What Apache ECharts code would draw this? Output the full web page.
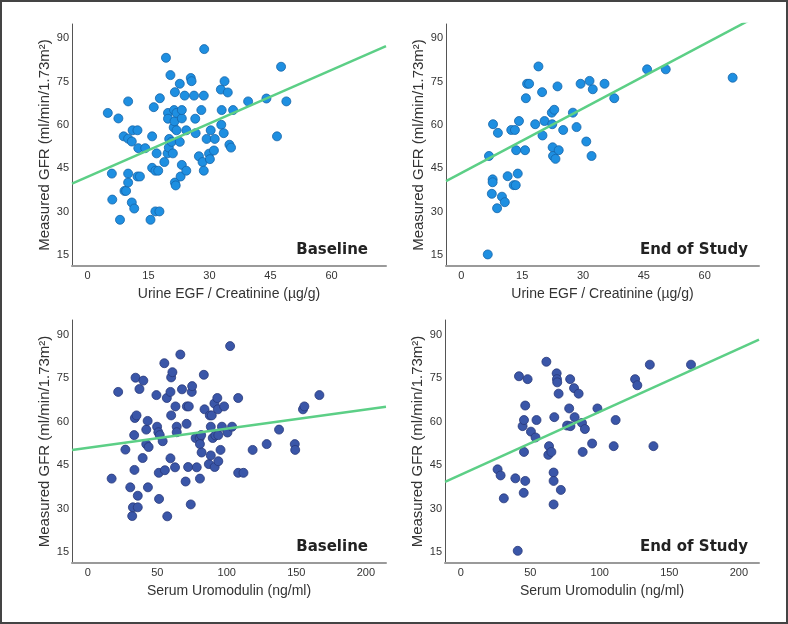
<!DOCTYPE html>
<html>
<head>
<meta charset="utf-8">
<script src="https://cdn.jsdelivr.net/npm/echarts@6/dist/echarts.min.js"></script>
<style>
  html, body { margin: 0; padding: 0; background: #fff; }
  #chart { width: 788px; height: 624px; box-sizing: border-box; border: 2px solid #444; }
</style>
</head>
<body>
<div id="chart"></div>
<script>
// urine EGF / creatinine vs measured GFR, baseline
const egfBaseX = [5.0, 6.0, 6.1, 7.6, 8.0, 8.9, 9.1, 9.5, 10.0, 10.0, 10.0, 10.0, 10.9, 10.9, 11.5, 11.1, 12.3, 12.5, 12.3, 12.9,
  14.2, 15.5, 15.9, 15.9, 16.3, 16.7, 17.7, 17.0, 16.7, 17.4, 17.8, 18.9, 19.3, 19.7, 19.8, 19.8, 20.0, 20.1, 20.4, 20.7,
  21.0, 21.2, 21.3, 21.4, 21.5, 21.7, 21.5, 21.9, 21.9, 22.7, 22.7, 22.9, 23.2, 23.2, 23.2, 23.9, 24.3, 24.3, 25.4, 25.6,
  26.2, 26.5, 26.6, 27.4, 28.0, 28.3, 28.6, 28.7, 28.6, 29.3, 29.9, 30.1, 30.3, 31.1, 31.3, 32.8, 32.9, 33.0, 33.5, 33.7,
  34.5, 34.9, 35.3, 35.8, 39.5, 44.0, 46.6, 47.6, 48.9];
const egfBaseY = [64.2, 43.2, 34.2, 62.3, 27.2, 56.1, 37.2, 37.2, 68.2, 43.2, 40.1, 55.3, 54.3, 33.2, 31.1, 58.2, 58.2, 52.0, 42.2, 42.2,
  52.0, 27.2, 56.1, 45.2, 66.2, 30.1, 30.1, 50.2, 44.2, 44.2, 69.3, 47.2, 83.3, 50.2, 64.2, 62.2, 52.2, 55.2, 77.3, 54.2,
  50.2, 59.2, 65.2, 61.3, 40.1, 39.1, 71.4, 64.2, 58.2, 54.2, 74.3, 42.2, 46.2, 62.3, 65.2, 70.2, 44.2, 58.2, 76.3, 75.2,
  70.2, 62.2, 57.2, 49.2, 65.2, 47.2, 70.2, 86.3, 44.2, 55.2, 50.1, 48.2, 58.2, 51.2, 55.2, 72.3, 60.1, 65.2, 57.2, 75.2,
  71.3, 53.2, 52.2, 65.2, 68.2, 69.2, 56.1, 80.2, 68.2];

// urine EGF / creatinine vs measured GFR, end of study
const egfEndX = [6.5, 6.8, 7.5, 7.7, 7.7, 7.8, 8.8, 9.0, 10.0, 10.7, 11.4, 12.3, 13.2, 12.9, 13.4, 13.5, 13.9, 14.2, 15.7, 15.9,
  16.2, 16.7, 18.2, 19.0, 19.9, 20.0, 20.5, 22.3, 22.4, 22.5, 22.6, 22.9, 23.2, 23.7, 24.0, 25.1, 27.5, 28.4, 29.4, 30.8,
  31.6, 32.1, 32.4, 35.3, 37.7, 45.8, 50.4, 66.9];
const egfEndY = [15.2, 49.3, 36.2, 41.2, 40.2, 60.3, 31.2, 57.3, 35.2, 33.3, 42.3, 58.3, 58.3, 39.2, 39.2, 51.3, 43.2, 61.4, 51.3, 69.3,
  74.3, 74.3, 60.3, 80.3, 71.4, 56.4, 61.4, 64.3, 60.3, 52.3, 49.3, 65.3, 48.3, 73.4, 51.3, 58.3, 64.3, 59.3, 74.3, 54.3,
  75.3, 49.3, 72.4, 74.3, 69.3, 79.3, 79.3, 76.4];

// serum uromodulin vs measured GFR, baseline
const umodBaseX = [17.2, 21.9, 27.1, 30.6, 32.0, 32.5, 36.0, 33.4, 33.6, 33.9, 35.1, 34.4, 36.0, 37.2, 39.5, 40.0, 42.1, 42.1, 43.1, 43.8,
  43.3, 49.4, 49.9, 50.8, 51.1, 51.3, 51.8, 53.9, 55.5, 55.1, 57.2, 56.9, 59.5, 59.5, 60.0, 60.0, 60.9, 62.8, 63.1, 64.0,
  64.0, 66.6, 67.8, 70.4, 71.1, 71.3, 72.7, 72.2, 74.1, 74.8, 75.1, 77.6, 78.4, 80.5, 80.7, 80.7, 81.9, 81.6, 83.5, 84.0,
  87.1, 87.8, 89.2, 88.5, 88.5, 89.9, 91.3, 91.1, 91.8, 93.2, 93.6, 93.9, 93.9, 95.5, 96.5, 98.1, 100.5, 102.4, 103.8, 108.2,
  108.2, 112.0, 118.6, 128.7, 137.6, 148.9, 149.2, 154.8, 155.8, 166.6];
const umodBaseY = [40.3, 70.2, 50.3, 37.3, 27.4, 30.4, 30.4, 55.3, 43.3, 61.2, 62.1, 75.1, 34.4, 71.2, 47.4, 74.1, 52.2, 57.2, 60.2, 51.2,
  37.3, 69.1, 58.2, 56.3, 42.3, 33.3, 55.3, 53.2, 43.2, 80.1, 27.3, 68.1, 70.2, 47.3, 62.1, 75.2, 77.0, 44.2, 65.2, 58.2,
  56.3, 83.1, 71.1, 39.3, 59.2, 65.2, 65.2, 44.3, 31.4, 70.2, 72.2, 54.3, 44.2, 54.3, 52.2, 40.3, 49.3, 55.3, 76.1, 64.2,
  45.3, 62.1, 62.1, 58.2, 48.3, 54.3, 44.3, 66.2, 55.2, 68.1, 64.2, 55.3, 46.3, 50.2, 58.2, 65.2, 56.2, 86.0, 58.2, 68.1,
  42.3, 42.3, 50.2, 52.2, 57.2, 52.2, 50.2, 64.2, 65.2, 69.1];

// serum uromodulin vs measured GFR, end of study
const umodEndX = [26.5, 28.7, 31.0, 39.3, 41.0, 41.9, 44.5, 45.5, 45.5, 45.3, 46.4, 46.4, 48.1, 50.5, 53.8, 54.5, 61.6, 63.0, 63.5, 65.2,
  66.8, 66.8, 66.8, 67.3, 69.0, 69.2, 69.4, 70.4, 72.0, 76.5, 78.0, 78.9, 78.7, 81.5, 81.9, 84.8, 87.2, 87.7, 89.3, 94.5,
  98.3, 110.0, 111.4, 125.4, 127.0, 136.0, 138.6, 165.6];
const umodEndY = [43.5, 41.4, 33.5, 40.4, 15.4, 75.6, 58.4, 60.5, 49.5, 35.4, 65.5, 39.5, 74.6, 56.5, 54.5, 60.5, 80.6, 48.5, 51.5, 49.5,
  42.4, 39.5, 31.4, 61.5, 76.6, 74.6, 73.5, 69.6, 36.4, 58.6, 64.5, 58.4, 74.6, 71.5, 61.5, 69.6, 59.5, 49.5, 57.4, 52.4,
  64.5, 51.5, 60.5, 74.6, 72.5, 79.6, 51.5, 79.6];

// fitted lines: [intercept, slope]
const fitEgfBase = [42.1, 0.616];
const fitEgfEnd = [43.4, 0.745];
const fitUmodBase = [50.9, 0.0662];
const fitUmodEnd = [41.6, 0.2174];

const egfTicks = [0, 15, 30, 45, 60];
const umodTicks = [0, 50, 100, 150, 200];
const gfrTicks = [15, 30, 45, 60, 75, 90];

const panelLabels = ['Baseline', 'End of Study', 'Baseline', 'End of Study'];

const egfRange = [-3.8, 73.4];
const umodRange = [-11.3, 214.5];
const gfrRange = [11.2, 95];

const yName = 'Measured GFR (ml/min/1.73m²)';
const egfName = 'Urine EGF / Creatinine (µg/g)';
const umodName = 'Serum Uromodulin (ng/ml)';

const panels = [
  { xs: egfBaseX, ys: egfBaseY, fit: fitEgfBase, range: egfRange, ticks: egfTicks, name: egfName, color: '#1e8fe1', border: '#1565a8' },
  { xs: egfEndX, ys: egfEndY, fit: fitEgfEnd, range: egfRange, ticks: egfTicks, name: egfName, color: '#1e8fe1', border: '#1565a8' },
  { xs: umodBaseX, ys: umodBaseY, fit: fitUmodBase, range: umodRange, ticks: umodTicks, name: umodName, color: '#3a56a8', border: '#28397a' },
  { xs: umodEndX, ys: umodEndY, fit: fitUmodEnd, range: umodRange, ticks: umodTicks, name: umodName, color: '#3a56a8', border: '#28397a' }
];

const grids = [
  { left: 70, top: 22, right: 400, bottom: 356 },
  { left: 444, top: 22, right: 27, bottom: 356 },
  { left: 70, top: 318, right: 400, bottom: 59 },
  { left: 443, top: 318, right: 27, bottom: 59 }
];

const labelFont = { fontFamily: 'Liberation Sans, Arial, sans-serif', fontSize: 11, color: '#333' };
const xNameFont = { fontFamily: 'Liberation Sans, Arial, sans-serif', fontSize: 14, color: '#333' };
const yNameFont = { fontFamily: 'Liberation Sans, Arial, sans-serif', fontSize: 15, color: '#333' };

const xAxis = panels.map((p, i) => ({
  gridIndex: i,
  type: 'value',
  min: p.range[0],
  max: p.range[1],
  name: p.name,
  nameLocation: 'middle',
  nameGap: 21,
  nameTextStyle: xNameFont,
  axisLine: { onZero: false, lineStyle: { color: '#9a9a9a', width: 2 } },
  axisTick: { show: false },
  splitLine: { show: false },
  axisLabel: Object.assign({ margin: 4, customValues: p.ticks }, labelFont)
}));

const yAxis = panels.map((p, i) => ({
  gridIndex: i,
  type: 'value',
  min: gfrRange[0],
  max: gfrRange[1],
  name: yName,
  nameLocation: 'middle',
  nameGap: 20,
  nameTextStyle: yNameFont,
  axisLine: { show: true, onZero: false, lineStyle: { color: '#555', width: 1 } },
  axisTick: { show: false },
  splitLine: { show: false },
  axisLabel: Object.assign({ margin: 3, customValues: gfrTicks }, labelFont)
}));

const series = [];
panels.forEach((p, i) => {
  series.push({
    type: 'scatter',
    xAxisIndex: i,
    yAxisIndex: i,
    symbolSize: 9,
    itemStyle: { color: p.color, borderColor: p.border, borderWidth: 0.8, opacity: 1 },
    data: p.xs.map((x, k) => [x, p.ys[k]]),
    z: 2
  });
  // regression line across the axis range
  series.push({
    type: 'line',
    xAxisIndex: i,
    yAxisIndex: i,
    symbol: 'none',
    clip: true,
    lineStyle: { color: '#5ccf86', width: 2.5 },
    data: p.range.map((x) => [x, p.fit[0] + p.fit[1] * x]),
    z: 3
  });
});

const labelPos = [[370, 250], [750, 250], [370, 547], [750, 547]];
const graphic = panelLabels.map((t, i) => ({
  type: 'text',
  right: 788 - labelPos[i][0],
  top: labelPos[i][1] - 9,
  style: {
    text: t,
    fill: '#222',
    font: 'bold 15px "DejaVu Sans", sans-serif'
  }
}));

const chart = echarts.init(document.getElementById('chart'));
chart.setOption({
  animation: false,
  grid: grids,
  xAxis,
  yAxis,
  series,
  graphic
});
</script>
</body>
</html>
